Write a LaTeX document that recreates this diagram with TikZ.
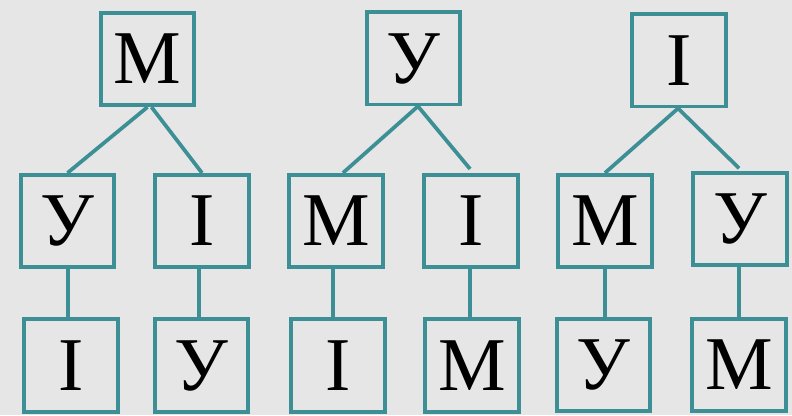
\documentclass[tikz,border=0pt]{standalone}
\usepackage{fontspec}
\setmainfont{Liberation Serif}
\definecolor{bgc}{HTML}{E6E6E6}
\definecolor{teal}{HTML}{3C8F95}
\tikzset{
  lbox/.style={draw=teal, line width=2.8pt, minimum width=70pt, minimum height=69.3pt,
    inner sep=0pt, font=\fontsize{57}{57}\selectfont, text height=37.4pt, text depth=0pt},
  link/.style={draw=teal, line width=2.8pt}
}
\begin{document}
\begin{tikzpicture}[x=0.75pt,y=-0.75pt]
\fill[bgc] (0,0) rectangle (792,415);
\useasboundingbox (0,0) rectangle (792,415);
% tree 1
\node[lbox] (t1) at (147.5,59) {М};
\node[lbox] (a1) at (67.5,221) {У};
\node[lbox] (b1) at (202,221) {І};
\node[lbox] (c1) at (71,365.5) {І};
\node[lbox] (d1) at (201.5,365.5) {У};
\draw[link] (t1.south) -- (a1.north);
\draw[link] ([xshift=3pt]t1.south) -- (b1.north);
\draw[link] ([xshift=0.4pt]a1.south) -- ([xshift=0.4pt]a1.south |- c1.north);
\draw[link] ([xshift=-2.2pt]b1.south) -- ([xshift=-2.2pt]b1.south |- d1.north);
% tree 2
\node[lbox] (t2) at (413.3,58.2) {У};
\node[lbox] (a2) at (336,221) {М};
\node[lbox] (b2) at (471,221) {І};
\node[lbox] (c2) at (338,365.5) {І};
\node[lbox] (d2) at (472,365.5) {М};
\draw[link] ([xshift=3.5pt]t2.south) -- ([xshift=5.2pt]a2.north);
\draw[link] ([xshift=3.5pt]t2.south) -- ([xshift=-0.7pt,yshift=3pt]b2.north);
\draw[link] ([xshift=-2.2pt]a2.south) -- ([xshift=-2.2pt]a2.south |- c2.north);
\draw[link] ([xshift=-0.7pt]b2.south) -- ([xshift=-0.7pt]b2.south |- d2.north);
% tree 3
\node[lbox] (t3) at (679,60.3) {І};
\node[lbox] (a3) at (605,221) {М};
\node[lbox] (b3) at (740,219) {У};
\node[lbox] (c3) at (603.5,365) {У};
\node[lbox] (d3) at (739,365) {М};
\draw[link] ([xshift=-0.7pt]t3.south) -- (a3.north);
\draw[link] ([xshift=-0.7pt]t3.south) -- ([xshift=-0.7pt,yshift=2pt]b3.north);
\draw[link] (a3.south) -- (a3.south |- c3.north);
\draw[link] ([xshift=-0.7pt]b3.south) -- ([xshift=-0.7pt]b3.south |- d3.north);
\end{tikzpicture}
\end{document}
